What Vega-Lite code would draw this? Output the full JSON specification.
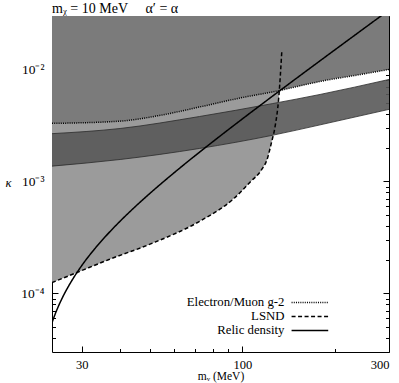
{
  "$schema": "https://vega.github.io/schema/vega-lite/v6.json",
  "width": 337,
  "height": 336,
  "autosize": {"type": "none"},
  "padding": {"left": 52, "top": 16, "right": 10, "bottom": 31},
  "background": "white",
  "title": {"text": "mᵪ = 10 MeV\u00a0\u00a0\u00a0\u00a0\u00a0α′ = α", "anchor": "start", "frame": "group", "font": "Liberation Serif", "fontSize": 14, "fontWeight": "normal", "offset": -5, "color": "black"},
  "config": {
    "view": {"stroke": null},
    "axis": {"grid": false, "domainColor": "black", "domainWidth": 1, "tickColor": "black", "tickWidth": 1, "labelFont": "Liberation Serif", "titleFont": "Liberation Serif", "labelColor": "black", "titleColor": "black", "labelFontSize": 13, "titleFontSize": 12.5, "titleFontWeight": "normal"}
  },
  "datasets": {
    "curves": [
      {"series": "Electron/Muon g-2", "m": 24, "k": 0.00330},
      {"series": "Electron/Muon g-2", "m": 39.7, "k": 0.00345},
      {"series": "Electron/Muon g-2", "m": 53.7, "k": 0.00388},
      {"series": "Electron/Muon g-2", "m": 72.5, "k": 0.00462},
      {"series": "Electron/Muon g-2", "m": 98, "k": 0.00555},
      {"series": "Electron/Muon g-2", "m": 132.4, "k": 0.00649},
      {"series": "Electron/Muon g-2", "m": 179, "k": 0.00781},
      {"series": "Electron/Muon g-2", "m": 242, "k": 0.0090},
      {"series": "Electron/Muon g-2", "m": 300, "k": 0.0100},
      {"series": "LSND", "m": 24, "k": 0.000125},
      {"series": "LSND", "m": 28.97, "k": 0.000154},
      {"series": "LSND", "m": 36.8, "k": 0.000201},
      {"series": "LSND", "m": 49.8, "k": 0.000274},
      {"series": "LSND", "m": 72.5, "k": 0.000440},
      {"series": "LSND", "m": 93.0, "k": 0.00069},
      {"series": "LSND", "m": 105.7, "k": 0.00098},
      {"series": "LSND", "m": 115.6, "k": 0.00128},
      {"series": "LSND", "m": 120.1, "k": 0.00155},
      {"series": "LSND", "m": 124.7, "k": 0.00230},
      {"series": "LSND", "m": 127.5, "k": 0.00300},
      {"series": "LSND", "m": 131.4, "k": 0.00574},
      {"series": "LSND", "m": 134.4, "k": 0.0148},
      {"series": "Relic density", "m": 24, "k": 0.0000548},
      {"series": "Relic density", "m": 24.5, "k": 0.0000640},
      {"series": "Relic density", "m": 25, "k": 0.0000734},
      {"series": "Relic density", "m": 26, "k": 0.0000927},
      {"series": "Relic density", "m": 27, "k": 0.0001127},
      {"series": "Relic density", "m": 28, "k": 0.0001335},
      {"series": "Relic density", "m": 30, "k": 0.0001774},
      {"series": "Relic density", "m": 33, "k": 0.0002489},
      {"series": "Relic density", "m": 36, "k": 0.0003271},
      {"series": "Relic density", "m": 40, "k": 0.0004421},
      {"series": "Relic density", "m": 45, "k": 0.0006028},
      {"series": "Relic density", "m": 50, "k": 0.0007825},
      {"series": "Relic density", "m": 60, "k": 0.0011985},
      {"series": "Relic density", "m": 70, "k": 0.001690},
      {"series": "Relic density", "m": 80, "k": 0.0022575},
      {"series": "Relic density", "m": 100, "k": 0.003619},
      {"series": "Relic density", "m": 120, "k": 0.005283},
      {"series": "Relic density", "m": 150, "k": 0.008346},
      {"series": "Relic density", "m": 200, "k": 0.014965},
      {"series": "Relic density", "m": 250, "k": 0.023474},
      {"series": "Relic density", "m": 290, "k": 0.031644}
    ],
    "band": [
      {"m": 24, "lo": 0.00137, "hi": 0.00267},
      {"m": 40, "lo": 0.00157, "hi": 0.00297},
      {"m": 72.5, "lo": 0.00197, "hi": 0.00380},
      {"m": 125, "lo": 0.00258, "hi": 0.00495},
      {"m": 179, "lo": 0.00320, "hi": 0.00598},
      {"m": 300, "lo": 0.00440, "hi": 0.00814}
    ]
  },
  "layer": [
    {
      "data": {"name": "curves"},
      "transform": [{"filter": "datum.series === 'LSND'"}],
      "mark": {"type": "area", "color": "#9b9b9b", "clip": true, "interpolate": "monotone"},
      "encoding": {
        "x": {"field": "m", "type": "quantitative", "scale": {"type": "log", "domain": [24, 300], "nice": false}, "axis": null},
        "y": {"field": "k", "type": "quantitative", "scale": {"type": "log", "domain": [0.00003, 0.03], "nice": false}, "axis": null},
        "y2": {"datum": 0.03}
      }
    },
    {
      "data": {"name": "band"},
      "mark": {"type": "area", "color": "#595959", "opacity": 0.9, "clip": true, "interpolate": "monotone"},
      "encoding": {
        "x": {"field": "m", "type": "quantitative", "axis": null},
        "y": {"field": "lo", "type": "quantitative", "axis": null},
        "y2": {"field": "hi"}
      }
    },
    {
      "data": {"name": "curves"},
      "transform": [{"filter": "datum.series === 'Electron/Muon g-2'"}],
      "mark": {"type": "area", "color": "#7b7b7b", "clip": true, "interpolate": "monotone"},
      "encoding": {
        "x": {"field": "m", "type": "quantitative", "axis": null},
        "y": {"field": "k", "type": "quantitative", "axis": null},
        "y2": {"datum": 0.03}
      }
    },
    {
      "data": {"name": "band"},
      "mark": {"type": "line", "color": "#2a2a2a", "strokeWidth": 0.8, "clip": true, "interpolate": "monotone"},
      "encoding": {
        "x": {"field": "m", "type": "quantitative", "axis": null},
        "y": {"field": "lo", "type": "quantitative", "axis": null}
      }
    },
    {
      "data": {"name": "band"},
      "mark": {"type": "line", "color": "#2a2a2a", "strokeWidth": 0.8, "clip": true, "interpolate": "monotone"},
      "encoding": {
        "x": {"field": "m", "type": "quantitative", "axis": null},
        "y": {"field": "hi", "type": "quantitative", "axis": null}
      }
    },
    {
      "data": {"name": "curves"},
      "mark": {"type": "line", "color": "black", "strokeWidth": 1.5, "clip": true, "interpolate": "monotone"},
      "encoding": {
        "x": {"field": "m", "type": "quantitative", "axis": null},
        "y": {"field": "k", "type": "quantitative", "axis": null},
        "strokeDash": {
          "field": "series", "type": "nominal",
          "scale": {"domain": ["Electron/Muon g-2", "LSND", "Relic density"], "range": [[1, 1.2], [4, 2.5], [1, 0]]},
          "legend": {"title": null, "orient": "none", "legendX": 251.5, "legendY": 280, "padding": 0, "labelFont": "Liberation Serif", "labelFontSize": 12.8, "labelColor": "black", "symbolType": "M-4,0H4", "symbolSize": 84, "symbolStrokeWidth": 1.5, "symbolStrokeColor": "black", "symbolFillColor": "transparent", "labelAlign": "right", "labelOffset": -31.8, "rowPadding": -2.2}
        }
      }
    },
    {
      "data": {"name": "curves"},
      "mark": {"type": "point", "opacity": 0},
      "encoding": {
        "x": {"field": "m", "type": "quantitative", "axis": {"orient": "bottom", "values": [30, 100, 300], "tickSize": -6, "labelPadding": 12, "labelFontSize": 12.5, "title": "mᵥ (MeV)", "titlePadding": 0, "titleFontSize": 11.5}},
        "y": {"field": "k", "type": "quantitative", "axis": {"orient": "left", "values": [0.0001, 0.001, 0.01], "tickSize": -6, "labelPadding": 14, "labelFontSize": 13.5, "labelExpr": "datum.value > 0.005 ? '10⁻²' : datum.value > 0.0005 ? '10⁻³' : '10⁻⁴'", "title": "κ", "titleAngle": 0, "titleX": -44, "titleY": 166, "titleAlign": "center", "titleBaseline": "middle", "titleFontStyle": "italic"}}
      }
    },
    {
      "data": {"name": "curves"},
      "mark": {"type": "point", "opacity": 0},
      "encoding": {
        "x": {"field": "m", "type": "quantitative", "axis": {"orient": "bottom", "values": [40, 50, 60, 70, 80, 90, 200], "tickSize": -3.5, "labels": false, "domain": false, "title": null}},
        "y": {"field": "k", "type": "quantitative", "axis": {"orient": "left", "values": [0.00004, 0.00005, 0.00006, 0.00007, 0.00008, 0.00009, 0.0002, 0.0003, 0.0004, 0.0005, 0.0006, 0.0007, 0.0008, 0.0009, 0.002, 0.003, 0.004, 0.005, 0.006, 0.007, 0.008, 0.009, 0.02], "tickSize": -3.5, "labels": false, "domain": false, "title": null}}
      }
    },
    {
      "data": {"name": "curves"},
      "mark": {"type": "point", "opacity": 0},
      "encoding": {
        "x": {"field": "m", "type": "quantitative", "axis": {"orient": "top", "values": [30, 100, 300], "tickSize": -6, "labels": false, "title": null}},
        "y": {"field": "k", "type": "quantitative", "axis": {"orient": "right", "values": [0.0001, 0.001, 0.01], "tickSize": -6, "labels": false, "title": null}}
      }
    },
    {
      "data": {"name": "curves"},
      "mark": {"type": "point", "opacity": 0},
      "encoding": {
        "x": {"field": "m", "type": "quantitative", "axis": {"orient": "top", "values": [40, 50, 60, 70, 80, 90, 200], "tickSize": -3.5, "labels": false, "domain": false, "title": null}},
        "y": {"field": "k", "type": "quantitative", "axis": {"orient": "right", "values": [0.00004, 0.00005, 0.00006, 0.00007, 0.00008, 0.00009, 0.0002, 0.0003, 0.0004, 0.0005, 0.0006, 0.0007, 0.0008, 0.0009, 0.002, 0.003, 0.004, 0.005, 0.006, 0.007, 0.008, 0.009, 0.02], "tickSize": -3.5, "labels": false, "domain": false, "title": null}}
      }
    }
  ],
  "resolve": {"axis": {"x": "independent", "y": "independent"}}
}
